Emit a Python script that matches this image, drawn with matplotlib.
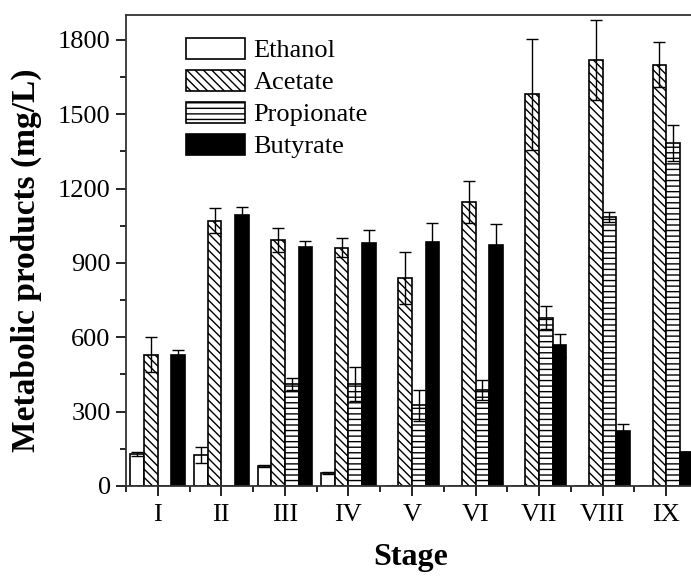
import numpy as np
import matplotlib
matplotlib.use("Agg")
import matplotlib.pyplot as plt
from matplotlib.ticker import MultipleLocator, FixedLocator

plt.rcParams['font.family'] = ['Liberation Serif', 'DejaVu Serif']
plt.rcParams['hatch.linewidth'] = 1.0

stages = ['I', 'II', 'III', 'IV', 'V', 'VI', 'VII', 'VIII', 'IX']
series = ['Ethanol', 'Acetate', 'Propionate', 'Butyrate']

ethanol = [128, 125, 80, 52, 0, 0, 0, 0, 0]
ethanol_err = [8, 32, 3, 3, 0, 0, 0, 0, 0]
acetate = [530, 1070, 992, 962, 838, 1147, 1580, 1720, 1700]
acetate_err = [70, 50, 50, 38, 105, 85, 225, 161, 90]
propionate = [0, 0, 412, 412, 326, 387, 679, 1085, 1385]
propionate_err = [0, 0, 25, 70, 62, 40, 47, 20, 73]
butyrate = [530, 1095, 966, 979, 984, 971, 567, 221, 137]
butyrate_err = [20, 32, 22, 55, 77, 85, 47, 29, 0]

values = [ethanol, acetate, propionate, butyrate]
errors = [ethanol_err, acetate_err, propionate_err, butyrate_err]
faces = ['white', 'white', 'white', 'black']
hatches = [None, '\\\\\\\\', '---', None]

fig = plt.figure(figsize=(6.91, 5.78), dpi=100)
ax = fig.add_axes([126/691, 92/578, 572/691, 471/578])

x = np.arange(1, len(stages) + 1)
w = 0.215
for i, (vals, errs) in enumerate(zip(values, errors)):
    pos = x + (i - 1.5) * w
    vals = np.array(vals, dtype=float)
    errs = np.array(errs, dtype=float)
    ax.bar(pos, vals, width=w, facecolor=faces[i], edgecolor='black',
           linewidth=1.2, hatch=hatches[i], label=series[i], zorder=2)
    m = vals > 0
    ax.errorbar(pos[m], vals[m], yerr=errs[m], fmt='none', ecolor='black',
                elinewidth=1.0, capsize=4, capthick=1.0, zorder=3)

ax.set_xlim(0.5, 9.5)
ax.set_ylim(0, 1900)
ax.set_xticks(x)
ax.set_xticklabels(stages)
ax.xaxis.set_minor_locator(FixedLocator(np.arange(0.5, 10, 1.0)))
ax.yaxis.set_major_locator(FixedLocator([0, 300, 600, 900, 1200, 1500, 1800]))
ax.yaxis.set_minor_locator(MultipleLocator(150))
ax.tick_params(axis='both', which='major', direction='out', length=7, width=1.2,
               labelsize=19, pad=4)
ax.tick_params(axis='x', which='major', pad=6)
ax.tick_params(axis='both', which='minor', direction='out', length=4, width=1.2)
for s in ax.spines.values():
    s.set_linewidth(1.3)
    s.set_color('#333333')

ax.set_ylabel('Metabolic products (mg/L)', fontsize=24, fontweight='bold')
ax.yaxis.set_label_coords(-0.146, 0.48)
ax.set_xlabel('Stage', fontsize=23, fontweight='bold')
ax.xaxis.set_label_coords(0.498, -0.122)

leg = ax.legend(loc='upper left', bbox_to_anchor=(0.105, 0.952), frameon=False,
                fontsize=19, handlelength=2.25, handleheight=0.85,
                handletextpad=0.3, labelspacing=0.28, borderpad=0, borderaxespad=0)

fig.savefig('out.png', dpi=100)
